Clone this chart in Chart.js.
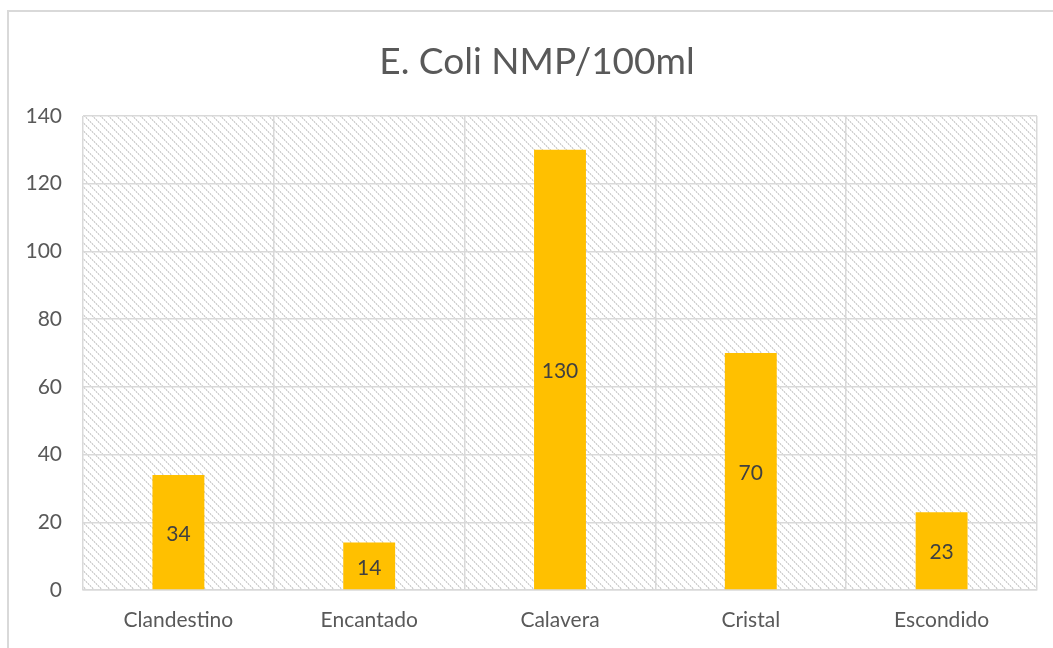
<!DOCTYPE html>
<html>
<head>
<meta charset="utf-8">
<script src="https://cdn.jsdelivr.net/npm/chart.js@4.4.1/dist/chart.umd.min.js"></script>
<style>
  html, body { margin: 0; padding: 0; background: #ffffff; }
  #wrap { width: 1053px; height: 648px; position: relative; }
</style>
</head>
<body>
<div id="wrap"><canvas id="c" width="1053" height="648"></canvas></div>
<script>
// Sites sampled and E. coli counts (NMP per 100 ml)
const categories = ['Clandestino', 'Encantado', 'Calavera', 'Cristal', 'Escondido'];
const ecoliValues = [34, 14, 130, 70, 23];
const yTicks = [0, 20, 40, 60, 80, 100, 120, 140];
const chartTitle = 'E. Coli NMP/100ml';

const FONT = "Lato, 'Open Sans', 'Liberation Sans', sans-serif";
const TEXT = '#595959';
const GRID = '#d9d9d9';

// Diagonal dotted hatch used behind the bars
function makeHatch() {
  const t = document.createElement('canvas');
  t.width = 8; t.height = 8;
  const g = t.getContext('2d');
  g.fillStyle = '#ffffff';
  g.fillRect(0, 0, 8, 8);
  for (let i = 0; i < 8; i += 1) {
    g.fillStyle = i % 2 === 0 ? '#d2d2d2' : '#ededed';
    g.fillRect(i, i, 1, 1);
    g.fillStyle = i % 2 === 0 ? '#ededed' : '#d2d2d2';
    g.fillRect((i + 1) % 8, i, 1, 1);
  }
  return g.canvas;
}

const framePlugin = {
  id: 'frame',
  beforeDraw(chart) {
    const { ctx, chartArea: a } = chart;
    ctx.save();
    // outer chart border
    ctx.strokeStyle = GRID;
    ctx.lineWidth = 2;
    ctx.strokeRect(8, 11, chart.width + 20, chart.height + 20);
    // hatched plot area
    ctx.fillStyle = ctx.createPattern(makeHatch(), 'repeat');
    ctx.fillRect(a.left, a.top, a.right - a.left, a.bottom - a.top);
    // title
    ctx.fillStyle = TEXT;
    ctx.font = '37px ' + FONT;
    ctx.textAlign = 'center';
    ctx.textBaseline = 'middle';
    ctx.fillText(chartTitle, 537, 62);
    ctx.restore();
  },
  afterDatasetsDraw(chart) {
    const { ctx } = chart;
    const meta = chart.getDatasetMeta(0);
    ctx.save();
    ctx.fillStyle = '#404040';
    ctx.font = '21px ' + FONT;
    ctx.textAlign = 'center';
    ctx.textBaseline = 'middle';
    meta.data.forEach((bar, i) => {
      const v = chart.data.datasets[0].data[i];
      const mid = (bar.y + bar.base) / 2;
      ctx.fillText(String(v), bar.x, mid + 2);
    });
    ctx.restore();
  }
};

new Chart(document.getElementById('c'), {
  type: 'bar',
  data: {
    labels: categories,
    datasets: [{
      data: ecoliValues,
      backgroundColor: '#ffc000',
      borderWidth: 0,
      categoryPercentage: 1,
      barPercentage: 0.272
    }]
  },
  options: {
    responsive: false,
    animation: false,
    layout: { padding: { top: 116, right: 16, left: 0, bottom: 0 } },
    plugins: { legend: { display: false }, title: { display: false }, tooltip: { enabled: false } },
    scales: {
      x: {
        offset: true,
        grid: { color: GRID, lineWidth: 1.5, offset: true, drawTicks: false },
        border: { color: GRID, width: 1.5 },
        ticks: { color: TEXT, font: { family: FONT, size: 21 }, padding: 18 },
        afterFit(s) { s.height = 58; }
      },
      y: {
        min: 0, max: 140,
        afterBuildTicks(s) { s.ticks = yTicks.map(v => ({ value: v })); },
        grid: { color: GRID, lineWidth: 1.5, drawTicks: false },
        border: { display: false },
        ticks: { color: TEXT, font: { family: FONT, size: 21 }, padding: 21 },
        afterFit(s) { s.width = 83; }
      }
    }
  },
  plugins: [framePlugin]
});
</script>
</body>
</html>
